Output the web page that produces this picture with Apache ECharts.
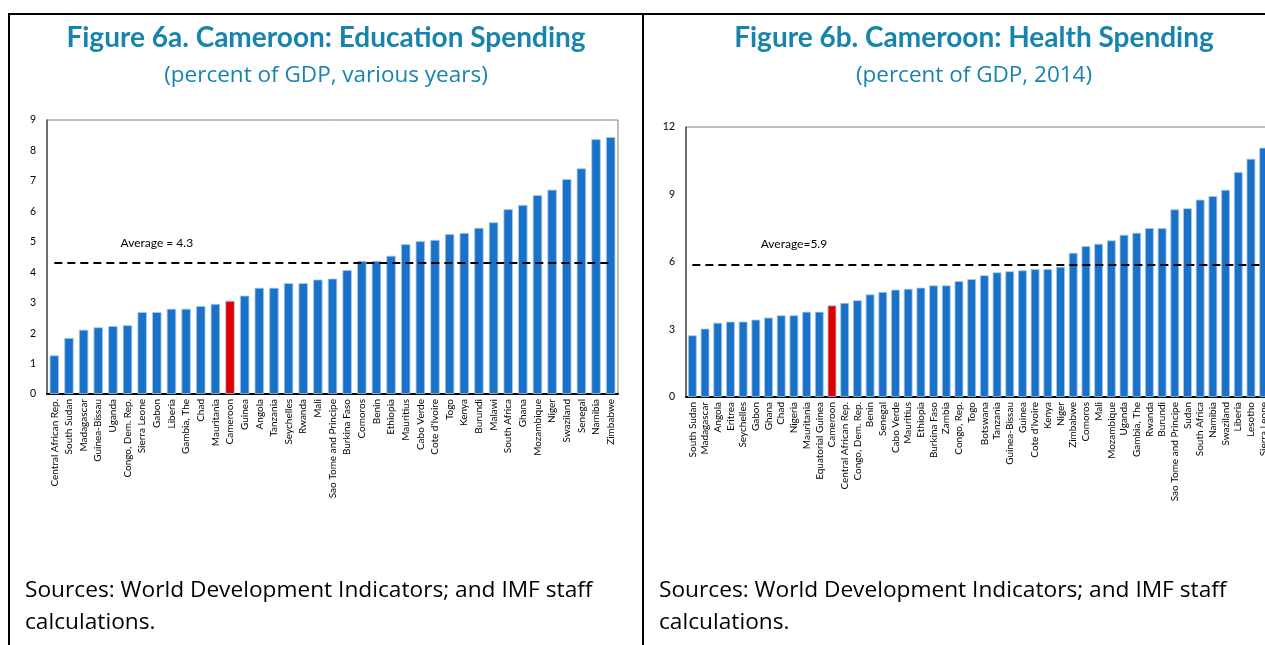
<!DOCTYPE html>
<html>
<head>
<meta charset="utf-8">
<script src="https://cdn.jsdelivr.net/npm/echarts@6/dist/echarts.min.js"></script>
<style>
  body { margin: 0; width: 1265px; height: 645px; overflow: hidden; background: #fff; position: relative; }
  .rule { position: absolute; background: #000; }
  .chart { position: absolute; }
  .sources { position: absolute; font-family: "Open Sans", sans-serif; font-size: 22.7px; line-height: 32px; color: #000; }
</style>
</head>
<body>
<div class="rule" style="left:8px; top:13px; width:1265px; height:2px"></div>
<div class="rule" style="left:8px; top:13px; width:2px; height:640px"></div>
<div class="rule" style="left:642px; top:13px; width:2px; height:640px"></div>

<div id="edu" class="chart" style="left:10px; top:15px; width:632px; height:560px"></div>
<div id="health" class="chart" style="left:644px; top:15px; width:660px; height:560px"></div>

<div class="sources" style="left:25px; top:573px; width:610px">Sources: World Development Indicators; and IMF staff calculations.</div>
<div class="sources" style="left:659px; top:573px; width:610px">Sources: World Development Indicators; and IMF staff calculations.</div>

<script>
// Figure 6a: education spending, percent of GDP
const eduCountries = ['Central African Rep.', 'South Sudan', 'Madagascar', 'Guinea-Bissau', 'Uganda',
  'Congo, Dem. Rep.', 'Sierra Leone', 'Gabon', 'Liberia', 'Gambia, The', 'Chad', 'Mauritania', 'Cameroon',
  'Guinea', 'Angola', 'Tanzania', 'Seychelles', 'Rwanda', 'Mali', 'Sao Tome and Principe', 'Burkina Faso',
  'Comoros', 'Benin', 'Ethiopia', 'Mauritius', 'Cabo Verde', "Cote d'Ivoire", 'Togo', 'Kenya', 'Burundi',
  'Malawi', 'South Africa', 'Ghana', 'Mozambique', 'Niger', 'Swaziland', 'Senegal', 'Namibia', 'Zimbabwe'];
const eduValues = [1.27, 1.84, 2.11, 2.19, 2.23, 2.26, 2.69, 2.69, 2.80, 2.80, 2.89, 2.96, 3.06,
  3.23, 3.49, 3.49, 3.64, 3.64, 3.76, 3.79, 4.07, 4.37, 4.37, 4.54, 4.92, 5.02, 5.06, 5.25, 5.29, 5.46,
  5.64, 6.07, 6.21, 6.53, 6.71, 7.06, 7.41, 8.37, 8.44];
const eduAverage = 4.3;
const eduTicks = { max: 9, interval: 1 };

// Figure 6b: health spending, percent of GDP, 2014
const healthCountries = ['South Sudan', 'Madagascar', 'Angola', 'Eritrea', 'Seychelles', 'Gabon', 'Ghana',
  'Chad', 'Nigeria', 'Mauritania', 'Equatorial Guinea', 'Cameroon', 'Central African Rep.', 'Congo, Dem. Rep.',
  'Benin', 'Senegal', 'Cabo Verde', 'Mauritius', 'Ethiopia', 'Burkina Faso', 'Zambia', 'Congo, Rep.', 'Togo',
  'Botswana', 'Tanzania', 'Guinea-Bissau', 'Guinea', "Cote d'Ivoire", 'Kenya', 'Niger', 'Zimbabwe', 'Comoros',
  'Mali', 'Mozambique', 'Uganda', 'Gambia, The', 'Rwanda', 'Burundi', 'Sao Tome and Principe', 'Sudan',
  'South Africa', 'Namibia', 'Swaziland', 'Liberia', 'Lesotho', 'Sierra Leone'];
const healthValues = [2.74, 3.04, 3.30, 3.35, 3.35, 3.44, 3.53, 3.63, 3.63, 3.79, 3.79, 4.07, 4.18, 4.30,
  4.56, 4.67, 4.77, 4.81, 4.86, 4.96, 4.96, 5.15, 5.24, 5.41, 5.54, 5.59, 5.63, 5.69, 5.69, 5.79, 6.41, 6.71,
  6.81, 6.96, 7.21, 7.30, 7.51, 7.51, 8.34, 8.39, 8.77, 8.93, 9.21, 10.0, 10.59, 11.08];
const healthAverage = 5.9;
const healthTicks = { max: 12, interval: 3 };

const highlight = 'Cameroon';
const titleColor = '#1784ad';
const barBlue = '#1a72c8';
const barRed = '#e00000';

function makeOption(cfg) {
  return {
    animation: false,
    graphic: [
      { type: 'text', left: 'center', top: 9,
        style: { text: cfg.title, font: 'bold 28px Lato', fill: titleColor } },
      { type: 'text', left: 'center', top: 49,
        style: { text: cfg.subtitle, font: '22.5px "Open Sans"', fill: titleColor } }
    ],
    grid: {
      left: cfg.gridLeft, top: cfg.gridTop, width: cfg.gridWidth, height: cfg.gridHeight,
      show: true, borderColor: '#808080', borderWidth: 1
    },
    xAxis: {
      type: 'category',
      data: cfg.categories,
      axisLine: { lineStyle: { color: '#000', width: 2 } },
      axisTick: { show: false },
      axisLabel: {
        interval: 0, rotate: 90, margin: 5,
        fontFamily: 'Lato', fontSize: 10, color: '#000'
      }
    },
    yAxis: {
      type: 'value', min: 0, max: cfg.ticks.max, interval: cfg.ticks.interval,
      axisLine: { show: true, lineStyle: { color: '#555', width: 1.5 } },
      axisTick: { show: false },
      splitLine: { show: false },
      axisLabel: { fontFamily: 'Lato', fontSize: 10.5, color: '#000', margin: 11 }
    },
    series: [{
      type: 'bar',
      barCategoryGap: cfg.gap,
      data: cfg.values.map((v, i) => ({
        value: v,
        itemStyle: { color: cfg.categories[i] === highlight ? barRed : barBlue }
      })),
      itemStyle: { borderColor: '#a8c9ec', borderWidth: 0.8 },
      markLine: {
        silent: true, symbol: 'none',
        lineStyle: { color: '#000', width: 2, type: [8, 5] },
        label: { show: false },
        data: [[{ coord: [0, cfg.average] }, { coord: [cfg.lineEnd, cfg.average] }]]
      },
      markPoint: {
        silent: true,
        data: [{
          coord: [cfg.labelAt, cfg.average], symbolSize: 0,
          label: {
            show: true, position: 'top', distance: 14,
            formatter: cfg.averageText, fontFamily: 'Lato', fontSize: 12, color: '#000'
          }
        }]
      }
    }]
  };
}

const eduChart = echarts.init(document.getElementById('edu'));
eduChart.setOption(makeOption({
  title: 'Figure 6a. Cameroon: Education Spending',
  subtitle: '(percent of GDP, various years)',
  categories: eduCountries, values: eduValues, average: eduAverage, ticks: eduTicks,
  averageText: 'Average = ' + eduAverage,
  labelAt: 7, lineEnd: eduCountries.length - 1,
  gridLeft: 37, gridTop: 105, gridWidth: 571, gridHeight: 274, gap: '36%'
}));

const healthChart = echarts.init(document.getElementById('health'));
healthChart.setOption(makeOption({
  title: 'Figure 6b. Cameroon: Health Spending',
  subtitle: '(percent of GDP, 2014)',
  categories: healthCountries, values: healthValues, average: healthAverage, ticks: healthTicks,
  averageText: 'Average=' + healthAverage,
  labelAt: 8, lineEnd: healthCountries.length - 1,
  gridLeft: 42, gridTop: 112, gridWidth: 584, gridHeight: 270, gap: '31%'
}));
</script>
</body>
</html>
